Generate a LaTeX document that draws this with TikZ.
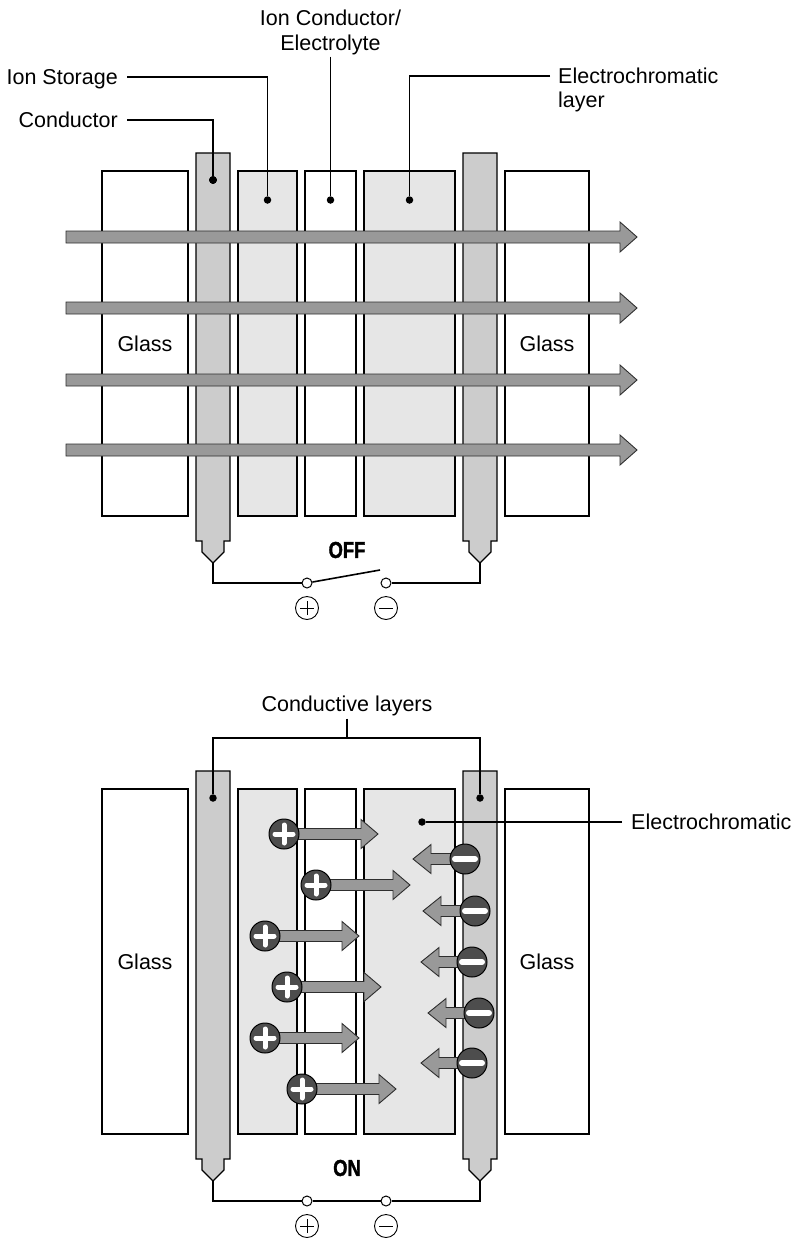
\documentclass[tikz,border=0pt]{standalone}
\usepackage{fontspec}
\setmainfont{Liberation Sans}
\newfontfamily\heavysans[UprightFont={* Bold},FakeBold=1.5,FakeStretch=0.8]{Liberation Sans}
\definecolor{condgray}{HTML}{CCCCCC}
\definecolor{layergray}{HTML}{E6E6E6}
\definecolor{arrowgray}{HTML}{999999}
\definecolor{iongray}{HTML}{4D4D4D}
\definecolor{edgegray}{HTML}{2E2E2E}

% start x, tip x, y, shaft half width, head half width, head length (signed)
\newcommand{\fatarrow}[6]{%
	\filldraw[fill=arrowgray,draw=edgegray,line width=0.9pt,line join=miter]
	({#1},{#3-#4}) -- ({#2-(#6)},{#3-#4}) -- ({#2-(#6)},{#3-#5}) -- ({#2},{#3})
	-- ({#2-(#6)},{#3+#5}) -- ({#2-(#6)},{#3+#4}) -- ({#1},{#3+#4}) -- cycle;
}
% left x, y shift, name of the tip
\newcommand{\electrode}[3]{%
	\filldraw[fill=condgray,draw=black,line width=1.1pt]
	({#1},{153+#2}) -- ({#1+34},{153+#2}) -- ({#1+34},{541+#2}) -- ({#1+28},{541+#2})
	-- ({#1+28},{552+#2}) -- ({#1+17},{563+#2}) -- ({#1+6},{552+#2}) -- ({#1+6},{541+#2})
	-- ({#1},{541+#2}) -- cycle;
	\coordinate (#3) at ({#1+17},{563+#2});
}

\begin{document}
\begin{tikzpicture}[x=1pt,y=-1pt,
	layer/.style={draw,line width=1.1pt,anchor=north west,minimum height=345pt,inner sep=0pt,outer sep=0pt,font=\fontsize{21.5}{26}\selectfont},
	lbl/.style={inner sep=0pt,text height=15pt,text depth=0pt,font=\fontsize{21.5}{26}\selectfont},
	state/.style={inner sep=0pt,font={\heavysans\fontsize{23}{28}\selectfont}},
	leader/.style={line width=1.1pt},
	wire/.style={line width=1.1pt},
	dot/.style={circle,fill,inner sep=0pt,minimum size=7.5pt},
	terminal/.style={circle,draw,fill=white,line width=1pt,inner sep=0pt,minimum size=10pt},
	polsign/.style={circle,draw,line width=0.9pt,inner sep=0pt,minimum size=23pt},
	plussign/.style={polsign,path picture={\draw[line width=0.9pt]
		([xshift=-7pt]path picture bounding box.center) -- ([xshift=7pt]path picture bounding box.center)
		([yshift=-7pt]path picture bounding box.center) -- ([yshift=7pt]path picture bounding box.center);}},
	minussign/.style={polsign,path picture={\draw[line width=0.9pt]
		([xshift=-7pt]path picture bounding box.center) -- ([xshift=7pt]path picture bounding box.center);}},
	ion/.style={circle,draw=black,fill=iongray,line width=1pt,inner sep=0pt,minimum size=30pt},
	cation/.style={ion,path picture={\draw[white,line width=5pt,line cap=round]
		([xshift=-9pt]path picture bounding box.center) -- ([xshift=9pt]path picture bounding box.center)
		([yshift=-9pt]path picture bounding box.center) -- ([yshift=9pt]path picture bounding box.center);}},
	anion/.style={ion,path picture={\draw[white,line width=6pt,line cap=round]
		([xshift=-10pt]path picture bounding box.center) -- ([xshift=10pt]path picture bounding box.center);}}]
	\useasboundingbox (0,0) rectangle (796,1240);
	% both cells
	\foreach \dy/\sw in {0/top,618/bot} {
		\node[layer,minimum width=86pt] (glassL-\sw) at (102,171+\dy) {Glass};
		\node[layer,minimum width=59pt,fill=layergray] (store-\sw) at (238,171+\dy) {};
		\node[layer,minimum width=51pt] (ionc-\sw) at (305,171+\dy) {};
		\node[layer,minimum width=91pt,fill=layergray] (echrom-\sw) at (364,171+\dy) {};
		\node[layer,minimum width=84pt] (glassR-\sw) at (505,171+\dy) {Glass};
		\electrode{196}{\dy}{tipL-\sw}
		\electrode{463}{\dy}{tipR-\sw}
		\node[terminal] (tplus-\sw) at (307,583+\dy) {};
		\node[terminal] (tminus-\sw) at (386,583+\dy) {};
		\draw[wire] (tipL-\sw) |- (tplus-\sw);
		\draw[wire] (tipR-\sw) |- (tminus-\sw);
		\node[plussign] (plus-\sw) at (307,608+\dy) {};
		\node[minussign] (minus-\sw) at (386,608+\dy) {};
	}
	% OFF
	\foreach \ay in {237,308,380,450}
	\fatarrow{66}{637}{\ay}{6}{15}{17}
	\node[dot] (dcond) at (213,180) {};
	\node[dot] (dstore) at (267.5,200) {};
	\node[dot] (dionc) at (330.5,200) {};
	\node[dot] (dechrom) at (409.5,200) {};
	\node[lbl,anchor=east] (conductor) at (118,120) {Conductor};
	\node[lbl,anchor=east] (storage) at (118,77) {Ion Storage};
	\node[lbl] (ionc1) at (330.5,18) {Ion Conductor/};
	\node[lbl] (ionc2) at (330.5,43) {Electrolyte};
	\node[lbl,anchor=west] (echr1) at (558,76) {Electrochromatic};
	\node[lbl,anchor=west] (echr2) at (558,100) {layer};
	\draw[leader,shorten <=9pt] (conductor) -| (dcond);
	\draw[leader,shorten <=9pt] (storage) -| (dstore);
	\draw[leader,shorten <=6pt] (ionc2) -- (dionc);
	\draw[leader,shorten <=8pt] (echr1) -| (dechrom);
	\node[state] (off) at (347,550) {OFF};
	\draw[line width=1.6pt] (tplus-top) -- (380,570);
	% ON
	\foreach \ix/\iy in {284/834,316/885,265/936,287/987,265/1038,302/1089} {
		\fatarrow{\ix}{\ix+94}{\iy}{5.5}{14.5}{17}
		\node[cation] (cat-\iy) at (\ix,\iy) {};
	}
	\foreach \ix/\iy/\tx in {465/859/413,475/911/423,472/962/421,479/1013/428,472/1063/421} {
		\fatarrow{\ix}{\tx}{\iy}{5.5}{14.5}{-18}
		\node[anion] (an-\iy) at (\ix,\iy) {};
	}
	\node[dot] (dcondL) at (213,798) {};
	\node[dot] (dcondR) at (480,798) {};
	\node[dot] (dechromb) at (422,822) {};
	\coordinate (bus) at (347,738);
	\node[lbl] (condlayers) at (347,704) {Conductive layers};
	\draw[leader] (dcondL) |- (bus) -| (dcondR);
	\draw[leader,shorten <=7pt] (condlayers) -- (bus);
	\node[lbl,anchor=west] (echrlabel) at (631,822) {Electrochromatic};
	\draw[leader,shorten <=9pt] (echrlabel) -- (dechromb);
	\node[state] (on) at (347,1168) {ON};
	\draw[line width=2.2pt] (tplus-bot) -- (tminus-bot);
\end{tikzpicture}
\end{document}
